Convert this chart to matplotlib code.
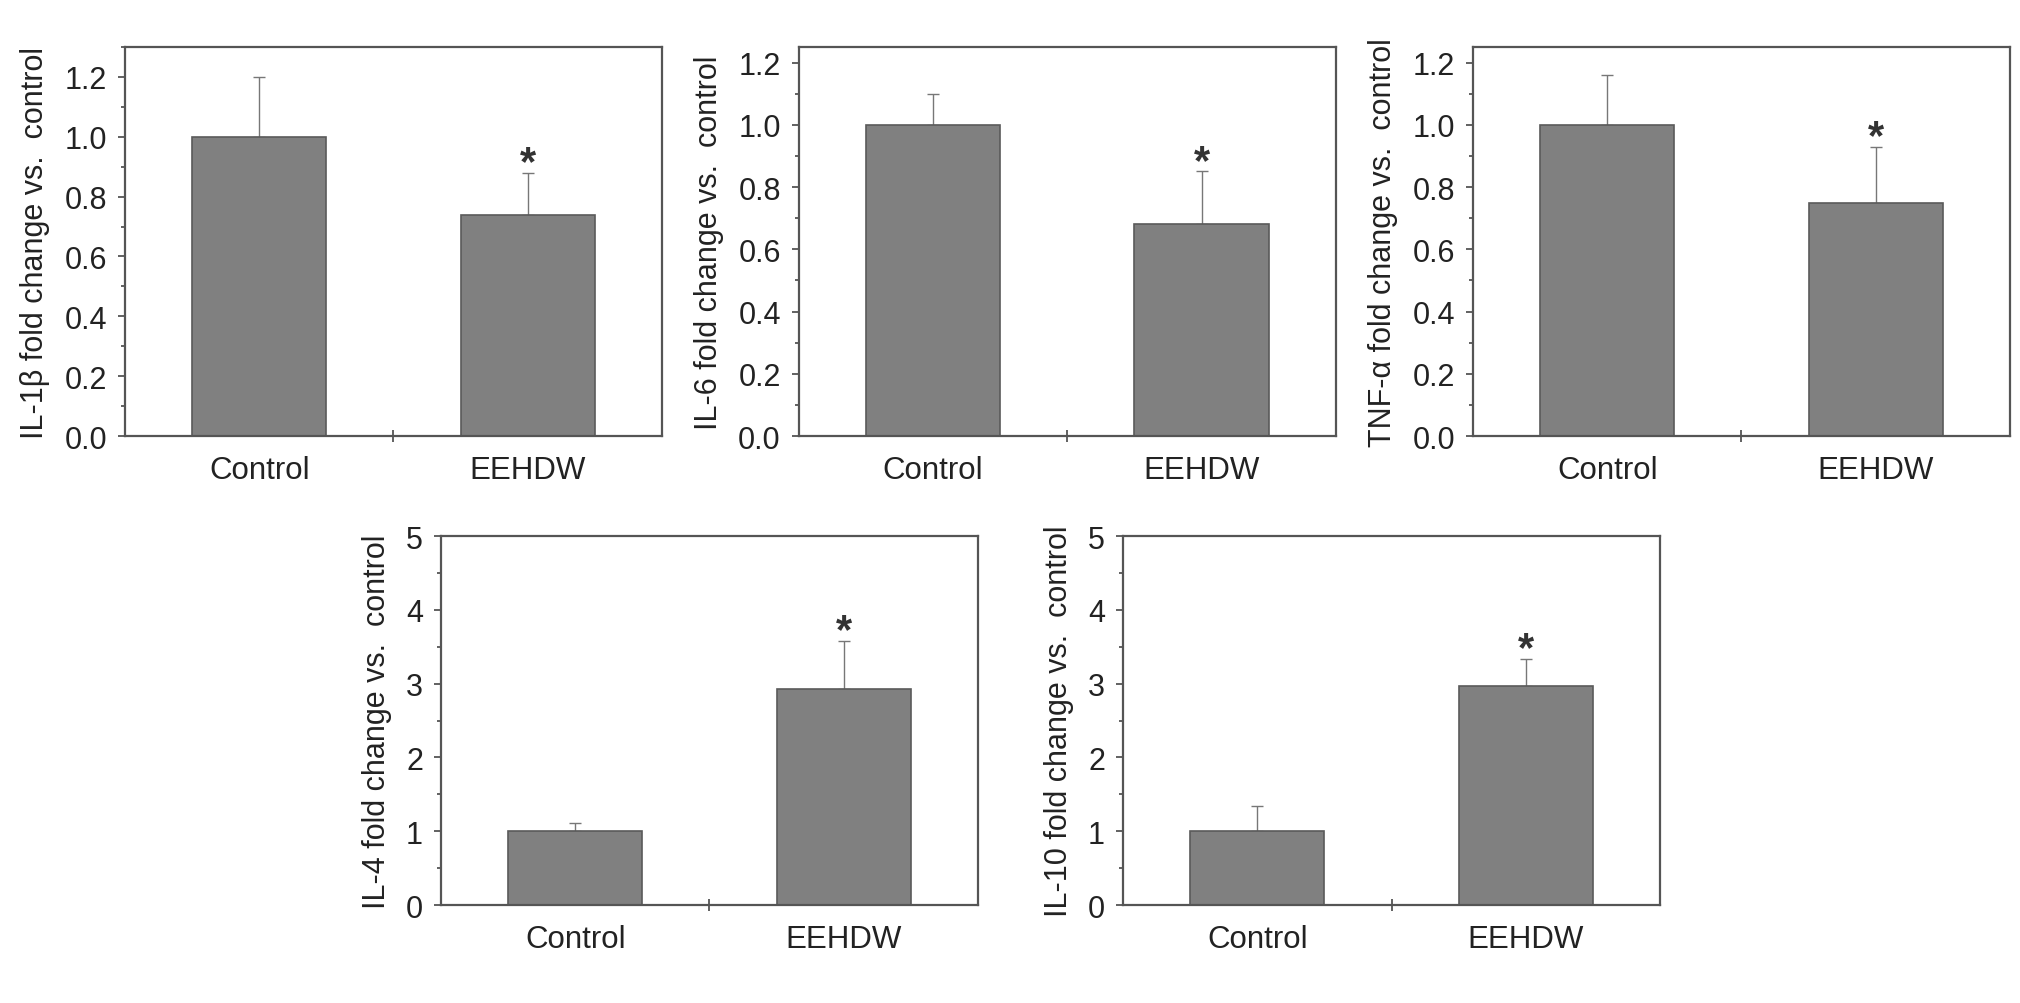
import matplotlib
matplotlib.use("Agg")
import matplotlib.pyplot as plt
import numpy as np
from matplotlib.ticker import MultipleLocator, FormatStrFormatter

plt.rcParams['font.family'] = ['Liberation Sans', 'DejaVu Sans']

# groups on the x axis
groups = ["Control", "EEHDW"]

# fold change (mean) and upper error
il1b_mean = [1.00, 0.74]
il1b_err = [0.20, 0.14]
il6_mean = [1.00, 0.68]
il6_err = [0.10, 0.17]
tnfa_mean = [1.00, 0.75]
tnfa_err = [0.16, 0.18]
il4_mean = [1.00, 2.93]
il4_err = [0.11, 0.65]
il10_mean = [1.00, 2.97]
il10_err = [0.34, 0.37]

# significance marks (* vs control)
significant = [False, True]

BAR = '#808080'
EDGE = '#5a5a5a'
FRAME = '#555555'
TEXT = '#222222'


def draw_panel(ax, means, errs, ylabel, ymax, yticks, minor_step, fmt):
    x = np.arange(1, len(groups) + 1)
    ax.bar(x, means, width=0.5, color=BAR, edgecolor=EDGE, linewidth=1.2, zorder=2)
    ax.errorbar(x, means, yerr=[np.zeros(len(errs)), errs], fmt='none',
                ecolor='#777777', elinewidth=1.0, capsize=4.5, capthick=1.0, zorder=1)
    for xi, m, e, s in zip(x, means, errs, significant):
        if s:
            ax.annotate('*', (xi, m + e), xytext=(0, -1), textcoords='offset points',
                        ha='center', va='baseline', fontsize=30, fontweight='bold',
                        color='#333333')

    ax.set_xlim(0.5, 2.5)
    ax.set_ylim(0, ymax)
    ax.set_yticks(yticks)
    ax.yaxis.set_major_formatter(FormatStrFormatter(fmt))
    ax.yaxis.set_minor_locator(MultipleLocator(minor_step))
    ax.set_xticks(x)
    ax.set_xticklabels(groups)
    ax.set_xticks([1.5], minor=True)

    ax.tick_params(axis='x', which='major', length=0, pad=14, labelsize=22.5, labelcolor=TEXT)
    ax.tick_params(axis='x', which='minor', direction='inout', length=8, width=1.3, color=FRAME)
    ax.tick_params(axis='y', which='major', direction='out', length=5, width=1.3, color=FRAME,
                   pad=8, labelsize=22, labelcolor=TEXT)
    ax.tick_params(axis='y', which='minor', direction='out', length=3, width=1.3, color=FRAME)

    for sp in ax.spines.values():
        sp.set_color(FRAME)
        sp.set_linewidth(1.6)

    ax.set_ylabel(ylabel, fontsize=22, color=TEXT, labelpad=10)


fig = plt.figure(figsize=(20.2, 10.04), dpi=100)

W = 0.2658
top_row = [0.0619, 0.3955, 0.7292]
bottom_row = [0.2183, 0.5560]

ax1 = fig.add_axes([top_row[0], 0.5647, W, 0.3875])
ax2 = fig.add_axes([top_row[1], 0.5647, W, 0.3875])
ax3 = fig.add_axes([top_row[2], 0.5647, W, 0.3875])
ax4 = fig.add_axes([bottom_row[0], 0.0976, W, 0.3675])
ax5 = fig.add_axes([bottom_row[1], 0.0976, W, 0.3675])

small_ticks = [0.0, 0.2, 0.4, 0.6, 0.8, 1.0, 1.2]
big_ticks = [0, 1, 2, 3, 4, 5]

draw_panel(ax1, il1b_mean, il1b_err, "IL-1\u03b2 fold change vs.  control", 1.3, small_ticks, 0.1, '%.1f')
draw_panel(ax2, il6_mean, il6_err, "IL-6 fold change vs.  control", 1.25, small_ticks, 0.1, '%.1f')
draw_panel(ax3, tnfa_mean, tnfa_err, "TNF-\u03b1 fold change vs.  control", 1.25, small_ticks, 0.1, '%.1f')
draw_panel(ax4, il4_mean, il4_err, "IL-4 fold change vs.  control", 5, big_ticks, 0.5, '%d')
draw_panel(ax5, il10_mean, il10_err, "IL-10 fold change vs.  control", 5, big_ticks, 0.5, '%d')

fig.savefig("out.png", dpi=100)
